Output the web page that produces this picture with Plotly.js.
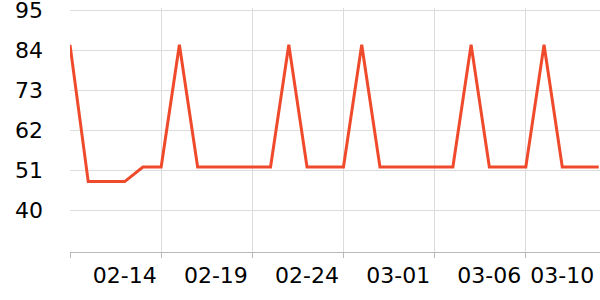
<!DOCTYPE html>
<html>
<head>
<meta charset="utf-8">
<script src="https://cdn.plot.ly/plotly-3.0.1.min.js"></script>
<style>html,body{margin:0;padding:0;background:#fff}#chart{width:600px;height:300px}</style>
</head>
<body>
<div id="chart"></div>
<script>
const dates = [
  "2023-02-11","2023-02-12","2023-02-13","2023-02-14","2023-02-15","2023-02-16",
  "2023-02-17","2023-02-18","2023-02-19","2023-02-20","2023-02-21","2023-02-22",
  "2023-02-23","2023-02-24","2023-02-25","2023-02-26","2023-02-27","2023-02-28",
  "2023-03-01","2023-03-02","2023-03-03","2023-03-04","2023-03-05","2023-03-06",
  "2023-03-07","2023-03-08","2023-03-09","2023-03-10","2023-03-11","2023-03-12"
];
const values = [
  85.5, 48, 48, 48, 52, 52,
  85.5, 52, 52, 52, 52, 52,
  85.5, 52, 52, 52, 85.5, 52,
  52, 52, 52, 52, 85.5, 52,
  52, 52, 85.5, 52, 52, 52
];
const gridDates = ["2023-02-11","2023-02-16","2023-02-21","2023-02-26","2023-03-03","2023-03-08"];
const labelDates = ["2023-02-14","2023-02-19","2023-02-24","2023-03-01","2023-03-06","2023-03-10"];
const labelText = ["02-14","02-19","02-24","03-01","03-06","03-10"];
const yTicks = [40, 51, 62, 73, 84, 95];

const font = {family: "DejaVu Sans", size: 22, color: "#000"};
const xRange = ["2023-02-11", "2023-03-12 01:40"];

const traces = [
  {x: dates, y: values, type: "scatter", mode: "lines",
   line: {color: "#ef4a2b", width: 3}, hoverinfo: "skip", showlegend: false},
  {x: dates, y: values, type: "scatter", mode: "lines", xaxis: "x2",
   line: {color: "rgba(0,0,0,0)", width: 0}, hoverinfo: "skip", showlegend: false}
];

const layout = {
  width: 600, height: 300,
  margin: {l: 70, r: 0, t: 8, b: 48},
  paper_bgcolor: "#fff", plot_bgcolor: "#fff",
  font: font,
  showlegend: false,
  xaxis: {
    type: "date", range: xRange,
    tickmode: "array", tickvals: gridDates, ticktext: gridDates.map(() => ""),
    showgrid: true, gridcolor: "#dcdcdc", gridwidth: 1,
    showline: true, linecolor: "#b8b8b8", linewidth: 1,
    ticks: "outside", ticklen: 5, tickcolor: "#b8b8b8",
    zeroline: false, fixedrange: true
  },
  xaxis2: {
    type: "date", overlaying: "x", matches: "x", side: "bottom", anchor: "y",
    range: xRange,
    tickmode: "array", tickvals: labelDates, ticktext: labelText,
    showgrid: false, showline: false, ticks: "", zeroline: false,
    tickfont: font, ticklabelstandoff: 8, ticklabeloverflow: "allow"
  },
  yaxis: {
    range: [28.7, 95.6],
    tickmode: "array", tickvals: yTicks,
    showgrid: true, gridcolor: "#dcdcdc", gridwidth: 1,
    showline: false, ticks: "", zeroline: false,
    tickfont: font, ticklabelstandoff: 26, ticklabeloverflow: "allow"
  }
};

Plotly.newPlot("chart", traces, layout, {staticPlot: true, displayModeBar: false});
</script>
</body>
</html>
